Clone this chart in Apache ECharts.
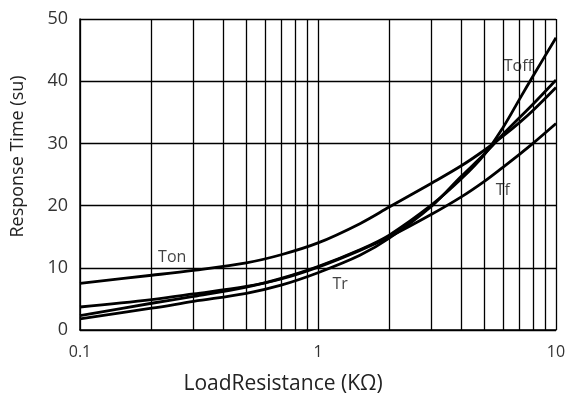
<!DOCTYPE html>
<html>
<head>
<meta charset="utf-8">
<script src="https://cdn.jsdelivr.net/npm/echarts@6/dist/echarts.min.js"></script>
<style>html,body{margin:0;padding:0;background:#fff;}#c{width:568px;height:403px;}</style>
</head>
<body>
<div id="c"></div>
<script>
const xValues = [0.1, 0.2, 0.3, 0.5, 0.7, 1, 1.5, 2, 3, 4, 5, 6, 7, 8, 10];
const tonValues  = [7.5, 8.8, 9.6, 10.8, 12.1, 14.0, 17.1, 19.8, 23.6, 26.4, 28.9, 31.2, 33.3, 35.3, 39.0];
const trValues   = [1.8, 3.5, 4.6, 5.9, 7.2, 9.2, 12.0, 14.8, 19.9, 24.7, 28.3, 31.5, 34.1, 36.3, 40.2];
const toffValues = [2.3, 4.3, 5.4, 6.9, 8.3, 10.2, 12.9, 15.3, 20.1, 24.3, 28.2, 32.6, 37.0, 40.8, 47.0];
const tfValues   = [3.7, 4.9, 5.8, 7.0, 8.2, 10.1, 12.8, 15.0, 18.6, 21.4, 23.9, 26.2, 28.2, 30.0, 33.2];
const seriesNames = ['Ton', 'Tr', 'Toff', 'Tf'];
const labelNames = ['Ton', 'Tr', 'Tf', 'Toff'];
const labelPoints = [[0.244, 11.6], [1.24, 7.4], [5.98, 22.5], [6.95, 42.4]];
const minorGridX = [0.2, 0.3, 0.4, 0.5, 0.6, 0.7, 0.8, 0.9, 2, 3, 4, 5, 6, 7, 8, 9];
const yTicks = {min: 0, max: 50, interval: 10};

const pair = vals => xValues.map((x, i) => [x, vals[i]]);
const lineStyle = {color: '#000', width: 2.8};
const mkLine = (name, vals) => ({
  name, type: 'line', data: pair(vals), smooth: 0.35, showSymbol: false, symbol: 'none',
  lineStyle, z: 5, animation: false
});

const chart = echarts.init(document.getElementById('c'), null, {renderer: 'canvas'});
chart.setOption({
  animation: false,
  backgroundColor: '#fff',
  grid: {left: 80, right: 12, top: 19, bottom: 73, containLabel: false, outerBoundsMode: 'none'},
  xAxis: {
    type: 'log', logBase: 10, min: 0.1, max: 10,
    name: 'LoadResistance (KΩ)', nameLocation: 'middle', nameGap: 44,
    nameTextStyle: {fontFamily: 'Open Sans', fontSize: 21, color: '#222', padding: [0, 70, 0, 0]},
    axisLine: {show: true, lineStyle: {color: '#000', width: 1.5}},
    axisTick: {show: false},
    axisLabel: {fontFamily: 'Open Sans', fontSize: 16, color: '#333', margin: 14,
      formatter: v => String(v)},
    splitLine: {show: true, lineStyle: {color: '#000', width: 1.3}}
  },
  yAxis: {
    type: 'value', min: yTicks.min, max: yTicks.max, interval: yTicks.interval,
    name: 'Response Time (su)', nameLocation: 'middle', nameGap: 53,
    nameTextStyle: {fontFamily: 'Open Sans', fontSize: 18, color: '#222', padding: [0, 0, 0, 36]},
    axisLine: {show: true, lineStyle: {color: '#000', width: 1.5}},
    axisTick: {show: false},
    axisLabel: {fontFamily: 'Open Sans', fontSize: 18, color: '#333', margin: 12},
    splitLine: {show: true, lineStyle: {color: '#000', width: 1.3}}
  },
  series: [
    mkLine(seriesNames[0], tonValues),
    mkLine(seriesNames[1], trValues),
    mkLine(seriesNames[2], toffValues),
    mkLine(seriesNames[3], tfValues),
    {
      type: 'line', data: [], silent: true,
      markLine: {
        symbol: 'none', silent: true, animation: false,
        label: {show: false},
        lineStyle: {color: '#000', width: 1.3, type: 'solid'},
        data: minorGridX.map(x => ({xAxis: x}))
      }
    },
    {
      type: 'scatter', symbolSize: 0, silent: true, z: 6,
      data: labelPoints.map((p, i) => ({value: p, name: labelNames[i]})),
      label: {show: true, position: 'inside', formatter: p => p.name,
        fontFamily: 'Open Sans', fontSize: 16, color: '#111'}
    }
  ]
});
</script>
</body>
</html>
